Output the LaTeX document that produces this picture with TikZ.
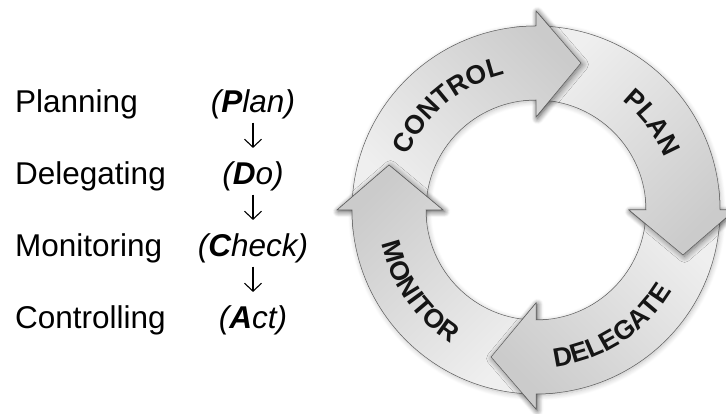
\documentclass[tikz,border=0pt]{standalone}
\usepackage{fontspec}
\setmainfont{Liberation Sans}
\usetikzlibrary{arrows.meta,decorations.text,shadows.blur}

\definecolor{tailgray}{HTML}{EFEFEF}
\definecolor{headgray}{HTML}{CBCBCB}
\definecolor{edgegray}{HTML}{5C5C5C}
\definecolor{labelgray}{HTML}{151515}

\newcommand{\listfont}{\fontsize{31.5}{36}\selectfont}
\newcommand{\ringfont}{\fontsize{26.5}{30}\selectfont\bfseries}

% one ring arrow: head base at angle #1, tail a quarter turn back
\newcommand{\arrowpath}[1]{({#1+90}:184) arc[start angle={#1+90}, end angle={#1}, radius=184]
  -- ({#1}:199) -- ({#1-17}:153.7) -- ({#1}:93) -- ({#1}:110)
  arc[start angle={#1}, end angle={#1+90}, radius=110] -- cycle}
\newcommand{\headpath}[1]{({#1}:93) -- ({#1-17}:153.7) -- ({#1}:199) -- cycle}
\newcommand{\headclip}[1]{({#1+7}:80) -- ({#1+7}:215) -- ({#1-30}:215) -- ({#1-30}:80) -- cycle}

\begin{document}
\begin{tikzpicture}[x=1pt, y=1pt,
  stage/.style={anchor=base west, inner sep=0pt, font=\listfont},
  phase/.style={anchor=base, inner sep=0pt, font=\listfont\itshape},
  flow/.style={-{Straight Barb[length=8pt,width=17pt]}, line width=1.1pt, shorten <=3pt, shorten >=14pt},
  ringshadow/.style={blur shadow={shadow xshift=1pt, shadow yshift=-1.5pt, shadow blur radius=5pt, shadow blur steps=8, shadow opacity=25}},
  headshadow/.style={blur shadow={shadow xshift=1.5pt, shadow yshift=-1.5pt, shadow blur radius=6pt, shadow blur steps=8, shadow opacity=55}},
  arrowfill/.style={draw=edgegray, line width=0.5pt, top color=headgray, bottom color=tailgray, shading angle=#1},
  ringlabel/.style={decorate, decoration={text along path, text align=center, text color=labelgray, text={|\ringfont|#1}}}]
\useasboundingbox (0,0) rectangle (726,414);

% the four functions
\node[stage] (planning) at (15,301) {Planning};
\node[stage] (delegating) at (15,229) {Delegating};
\node[stage] (monitoring) at (15,157) {Monitoring};
\node[stage] (controlling) at (15,85) {Controlling};

% PDCA words
\node[phase] (plan) at (253,301) {(\textbf{P}lan)};
\node[phase] (do) at (253,229) {(\textbf{D}o)};
\node[phase] (check) at (253,157) {(\textbf{C}heck)};
\node[phase] (act) at (253,85) {(\textbf{A}ct)};
\draw[flow] (plan) -- (do);
\draw[flow] (do) -- (check);
\draw[flow] (check) -- (act);

% the cycle
\begin{scope}[shift={(536,204)}]
  % soft shadow under the ring
  \path[ringshadow] \arrowpath{90};
  \path[ringshadow] \arrowpath{0};
  \path[ringshadow] \arrowpath{-90};
  \path[ringshadow] \arrowpath{-180};

  % arrows, each one over the head of the one before
  \path[arrowfill=-45] \arrowpath{90};   % control
  \path[arrowfill=-135] \arrowpath{0};   % plan
  \path[arrowfill=135] \arrowpath{-90};  % delegate
  \path[arrowfill=45] \arrowpath{-180};  % monitor

  % heads again, on top of the next tail
  \path[headshadow] \headpath{90};
  \begin{scope}
    \clip \headclip{90};
    \path[arrowfill=-45] \arrowpath{90};
  \end{scope}
  \path[headshadow] \headpath{0};
  \begin{scope}
    \clip \headclip{0};
    \path[arrowfill=-135] \arrowpath{0};
  \end{scope}
  \path[headshadow] \headpath{-90};
  \begin{scope}
    \clip \headclip{-90};
    \path[arrowfill=135] \arrowpath{-90};
  \end{scope}
  \path[headshadow] \headpath{-180};
  \begin{scope}
    \clip \headclip{-180};
    \path[arrowfill=45] \arrowpath{-180};
  \end{scope}

  % labels along the ring
  \path[ringlabel=CONTROL] (175:139) arc[start angle=175, end angle=85, radius=139];
  \path[ringlabel=PLAN] (82:139) arc[start angle=82, end angle=-8, radius=139];
  \path[ringlabel=DELEGATE] (258:158) arc[start angle=258, end angle=348, radius=158];
  \path[ringlabel=MONITOR] (170:158) arc[start angle=170, end angle=260, radius=158];
\end{scope}
\end{tikzpicture}
\end{document}
